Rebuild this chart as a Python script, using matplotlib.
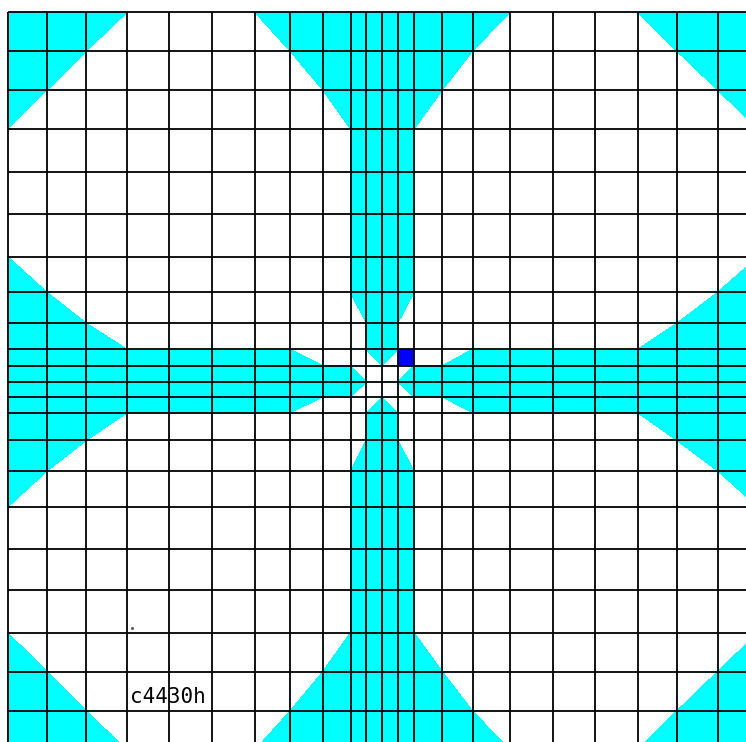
import numpy as np
import matplotlib
matplotlib.use("Agg")
import matplotlib.pyplot as plt

# Mesh line coordinates (non-uniform grid), x to the right, y downwards
x_edges = [7.7, 47.0, 86.3, 127.0, 169.4, 211.8, 255.0, 290.0, 322.8, 350.5, 366.3,
           382.0, 397.7, 414.0, 442.3, 472.5, 510.0, 552.8, 595.2, 637.6, 676.8,
           717.6, 758.0]
y_edges = [12.3, 51.0, 90.0, 129.0, 171.7, 214.0, 256.7, 292.3, 323.3, 349.3, 365.7,
           382.0, 397.0, 412.7, 440.3, 471.0, 507.0, 549.3, 590.3, 632.7, 671.7,
           711.0, 750.0]

# Cyan (filled) regions, vertices in mesh-index space (i, j)
region_top_left = [(0, 0), (3, 0), (0, 3)]
region_top_right = [(19, 0), (22, 0), (22, 3)]
region_bottom_left = [(0, 19), (0, 22), (3, 22)]
region_bottom_right = [(22, 19), (22, 22), (19, 22)]
region_arm_top = [(6, 0), (16, 0), (13, 3), (13, 7), (12, 8), (12, 9), (11, 10),
                  (10, 9), (10, 8), (9, 7), (9, 3)]
region_arm_bottom = [(11, 12), (12, 13), (12, 14), (13, 15), (13, 19), (16, 22),
                     (6, 22), (9, 19), (9, 15), (10, 14), (10, 13)]
region_arm_left = [(0, 6), (3, 9), (7, 9), (8, 10), (9, 10), (10, 11), (9, 12),
                   (8, 12), (7, 13), (3, 13), (0, 16)]
region_arm_right = [(22, 6), (19, 9), (15, 9), (14, 10), (13, 10), (12, 11),
                    (13, 12), (14, 12), (15, 13), (19, 13), (22, 16)]
cyan_regions = [region_top_left, region_top_right, region_bottom_left,
                region_bottom_right, region_arm_top, region_arm_bottom,
                region_arm_left, region_arm_right]

# Highlighted cell (mesh-index of its upper-left corner)
blue_cell = (12, 9)

label_text = "c4430h"
label_pos = (130, 703)
dot_pos = (132, 628)

idx = np.arange(len(x_edges))
jdx = np.arange(len(y_edges))


def to_xy(poly):
    pts = list(poly) + [poly[0]]
    xs, ys = [], []
    for (i0, j0), (i1, j1) in zip(pts[:-1], pts[1:]):
        n = int(max(abs(i1 - i0), abs(j1 - j0)) * 40) + 1
        t = np.linspace(0, 1, n, endpoint=False)
        ii = i0 + (i1 - i0) * t
        jj = j0 + (j1 - j0) * t
        xs.extend(np.interp(ii, idx, x_edges))
        ys.extend(np.interp(jj, jdx, y_edges))
    return xs, ys


fig = plt.figure(figsize=(7.46, 7.42), dpi=100)
ax = fig.add_axes([0, 0, 1, 1])
ax.set_xlim(0, 746)
ax.set_ylim(742, 0)
ax.axis("off")

for reg in cyan_regions:
    xs, ys = to_xy(reg)
    ax.fill(xs, ys, color="#00FFFF", linewidth=0, antialiased=False, zorder=1)

bi, bj = blue_cell
bx, by = to_xy([(bi, bj), (bi + 1, bj), (bi + 1, bj + 1), (bi, bj + 1)])
ax.fill(bx, by, color="#0000FF", linewidth=0, zorder=2)

for x in x_edges:
    ax.plot([x, x], [y_edges[0], y_edges[-1]], color="black", lw=1.3, zorder=3,
            solid_capstyle="butt")
for y in y_edges:
    ax.plot([x_edges[0], x_edges[-1]], [y, y], color="black", lw=1.3, zorder=3,
            solid_capstyle="butt")

ax.text(label_pos[0], label_pos[1], label_text, family="DejaVu Sans Mono",
        fontsize=15, va="baseline", ha="left", color="black", zorder=4)
ax.plot([dot_pos[0]], [dot_pos[1]], marker="s", markersize=1, color="#555555",
        linestyle="none", zorder=4)

fig.savefig("out.png", dpi=100, facecolor="white")
